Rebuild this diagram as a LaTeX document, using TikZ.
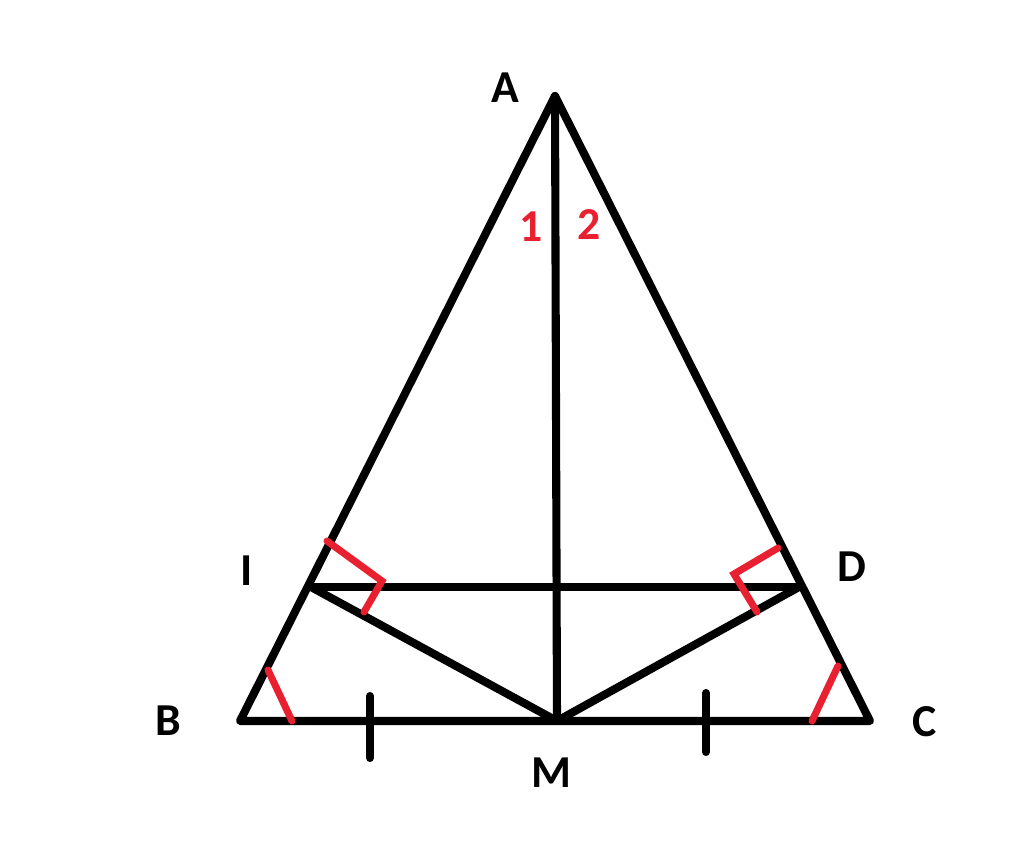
\documentclass[tikz,border=0pt]{standalone}
\usepackage{fontspec}
\setmainfont{Carlito}
\definecolor{markred}{RGB}{232,32,48}
\begin{document}
\begin{tikzpicture}[x=0.01cm,y=-0.01cm,
  seg/.style={line width=2.3pt,line cap=round,line join=round,black},
  redseg/.style={line width=2pt,line cap=round,line join=miter,markred},
  lbl/.style={font=\fontsize{13}{15}\selectfont\bfseries,text=black},
  num/.style={font=\fontsize{13}{15}\selectfont\bfseries,text=markred}]
\useasboundingbox (0,0) rectangle (1024,867);
\coordinate (A) at (555,96);
\coordinate (B) at (240,721);
\coordinate (C) at (870,721);
\coordinate (M) at (557,721);
\coordinate (I) at (311,587);
\coordinate (D) at (799,587);
% ticks
\coordinate (t1a) at (370,696);
\coordinate (t1b) at (370,758);
\coordinate (t2a) at (706,693);
\coordinate (t2b) at (706,752);
% red marks
\coordinate (r1a) at (327,541);
\coordinate (r1b) at (382,581);
\coordinate (r1c) at (364,612);
\coordinate (r2a) at (778,548);
\coordinate (r2b) at (734,574);
\coordinate (r2c) at (757,612);
\coordinate (r3a) at (268,670);
\coordinate (r3b) at (292,721);
\coordinate (r4a) at (838,666);
\coordinate (r4b) at (812,721);
\draw[seg] (A) -- (B) -- (C) -- cycle;
\draw[seg] (A) -- (M);
\draw[seg] (I) -- (D);
\draw[seg] (I) -- (M) -- (D);
\draw[seg] (t1a) -- (t1b);
\draw[seg] (t2a) -- (t2b);
\draw[redseg] (r1a) -- (r1b) -- (r1c);
\draw[redseg] (r2a) -- (r2b) -- (r2c);
\draw[redseg] (r3a) -- (r3b);
\draw[redseg] (r4a) -- (r4b);
\node[lbl] (lA) at (505,88) {A};
\node[lbl] (lB) at (168,721) {B};
\node[lbl] (lC) at (925,722) {C};
\node[lbl] (lM) at (551,773) {M};
\node[lbl] (lI) at (247,571) {I};
\node[lbl] (lD) at (852,567) {D};
\node[num] (n1) at (531,227) {1};
\node[num] (n2) at (589,225) {2};
\end{tikzpicture}
\end{document}
